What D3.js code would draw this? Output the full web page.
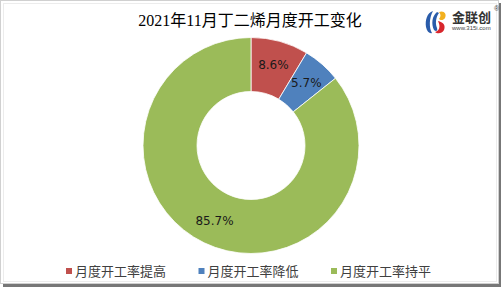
<!DOCTYPE html>
<html>
<head>
<meta charset="utf-8">
<script src="https://cdn.jsdelivr.net/npm/d3@7"></script>
<style>
  body { margin: 0; background: #fff; }
  svg { display: block; }
</style>
</head>
<body>
<div id="chart"></div>
<script>
// data
const categories = ["月度开工率提高", "月度开工率降低", "月度开工率持平"];
const values = [8.6, 5.7, 85.7];
const colors = ["#C0504D", "#4F81BD", "#9BBB59"];
const title = "2021年11月丁二烯月度开工变化";

const svgWidth = 504;
const svgHeight = 289;

const svg = d3.select("#chart")
    .append("svg")
    .attr("width", svgWidth)
    .attr("height", svgHeight);

// frame with shadow
svg.append("rect")
    .attr("x", 3).attr("y", 3)
    .attr("width", 498).attr("height", 284)
    .attr("fill", "#777");
svg.append("rect")
    .attr("x", 0.5).attr("y", 0.5)
    .attr("width", 498).attr("height", 283)
    .attr("fill", "#fff")
    .attr("stroke", "#d0d0d0");
svg.append("rect")
    .attr("x", 3.5).attr("y", 3.5)
    .attr("width", 493).attr("height", 278)
    .attr("fill", "none")
    .attr("stroke", "#ececec");

svg.append("text")
    .attr("x", 250)
    .attr("y", 26)
    .attr("text-anchor", "middle")
    .style("font-family", "'Liberation Serif', 'Noto Sans CJK SC', serif")
    .style("font-size", "16px")
    .attr("fill", "#000")
    .text(title);

// logo
const logo = svg.append("g").attr("transform", "translate(436, 22)");
logo.append("path")
    .attr("d", "M-3,-11 C-9,-9 -11,-2 -10,5 C-9,10 -6,12 -4,11 C-7,6 -7,-4 -3,-11 Z")
    .attr("fill", "#2a5caa");
logo.append("path")
    .attr("d", "M1,-10 C-4,-6 -5,2 -2,8 C0,10 2,9 1,6 C-1,1 0,-5 3,-9 Z")
    .attr("fill", "#2a5caa");
logo.append("path")
    .attr("d", "M3,-10 C8,-12 11,-8 9,-4 C7,-1 4,-2 3,-3 C5,-5 5,-8 3,-10 Z")
    .attr("fill", "#f2b01e");
logo.append("path")
    .attr("d", "M2,-1 C7,0 10,3 8,8 C6,12 1,12 -1,10 C3,9 5,5 2,-1 Z")
    .attr("fill", "#d8262c");
svg.append("text")
    .attr("x", 452).attr("y", 22)
    .style("font-family", "'Noto Sans CJK SC', sans-serif")
    .style("font-size", "13px")
    .style("font-weight", "bold")
    .attr("fill", "#333")
    .text("金联创");
svg.append("text")
    .attr("x", 452).attr("y", 30)
    .style("font-family", "'Liberation Sans', sans-serif")
    .style("font-size", "6px")
    .attr("fill", "#444")
    .text("www.315i.com");
svg.append("text")
    .attr("x", 494).attr("y", 11)
    .style("font-family", "'Liberation Sans', sans-serif")
    .style("font-size", "7px")
    .attr("fill", "#444")
    .text("®");

// doughnut
const cx = 251, cy = 145.5;
const outerR = 108, innerR = 54;

const pie = d3.pie().sort(null).value(d => d);
const arc = d3.arc().innerRadius(innerR).outerRadius(outerR);
const labelArc = d3.arc().innerRadius(84).outerRadius(84);

const chartGroup = svg.append("g")
    .attr("transform", `translate(${cx}, ${cy})`);

const arcs = pie(values);

chartGroup.selectAll("path")
    .data(arcs)
    .enter()
    .append("path")
    .attr("d", arc)
    .attr("fill", (d, i) => colors[i])
    .attr("stroke", "#fff")
    .attr("stroke-width", 0.8);

chartGroup.selectAll("text.lbl")
    .data(arcs)
    .enter()
    .append("text")
    .attr("class", "lbl")
    .attr("transform", d => `translate(${labelArc.centroid(d)})`)
    .attr("text-anchor", "middle")
    .attr("dy", "0.35em")
    .style("font-family", "'DejaVu Sans', sans-serif")
    .style("font-size", "12px")
    .attr("fill", "#1a1a1a")
    .text(d => d.data.toFixed(1) + "%");

// legend
const legendX = d3.scalePoint()
    .domain(categories)
    .range([66, 331]);

const legend = svg.append("g").selectAll("g")
    .data(categories)
    .enter()
    .append("g")
    .attr("transform", d => `translate(${legendX(d)}, 271)`);

legend.append("rect")
    .attr("x", 0).attr("y", -3)
    .attr("width", 6).attr("height", 6)
    .attr("fill", (d, i) => colors[i]);

legend.append("text")
    .attr("x", 9)
    .attr("dy", "0.38em")
    .style("font-family", "'Noto Sans CJK SC', sans-serif")
    .style("font-size", "13px")
    .attr("fill", "#404040")
    .text(d => d);
</script>
</body>
</html>
